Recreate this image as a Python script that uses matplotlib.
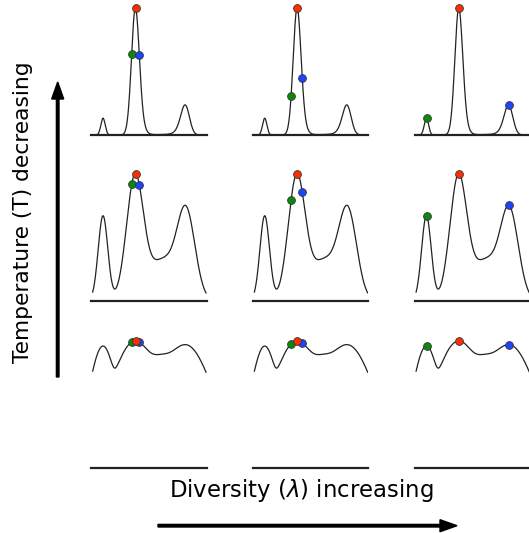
import numpy as np
import matplotlib.pyplot as plt

# Gaussian mixture that is tempered in each row (x in panel units)
centers = [11.0, 43.0, 70.0, 94.0]
widths = [4.8, 8.5, 12.5, 9.0]
weights = [0.585, 0.85, 0.27, 0.612]

# rows from top to bottom: temperature decreasing upwards
temps = [0.2, 1.0, 10.0]

# sample positions for each column (diversity increasing to the right)
green_x = [39.7, 37.4, 11.3]
red_x = [43.5, 43.5, 43.5]
blue_x = [47.3, 48.6, 93.5]

W, H = 529, 533


def density(x):
    p = np.zeros_like(x)
    for m, s, w in zip(centers, widths, weights):
        p += w * np.exp(-(x - m) ** 2 / (2 * s ** 2))
    return p


fig = plt.figure(figsize=(W / 100, H / 100), dpi=100)

# overlay for arrows and labels, in pixel units
ov = fig.add_axes([0, 0, 1, 1])
ov.set_xlim(0, W)
ov.set_ylim(H, 0)
ov.axis('off')

ov.arrow(57.7, 377, 0, -295, width=2.6, head_width=12, head_length=17,
         length_includes_head=True, color='black')
ov.arrow(158, 525.7, 299, 0, width=2.6, head_width=12, head_length=17,
         length_includes_head=True, color='black')
ov.text(23.5, 212, 'Temperature (T) decreasing', rotation=90,
        ha='center', va='center', fontsize=15.7)
ov.text(301, 491, r'Diversity ($\lambda$) increasing',
        ha='center', va='center', fontsize=16.4)

xs = np.linspace(0.7, 114, 600)
baselines = [135, 300.5, 468]
lefts = [91.3, 253.0, 414.7]

for r, T in enumerate(temps):
    for c in range(3):
        ax = fig.add_axes([lefts[c] / W, (H - baselines[r]) / H,
                           115.4 / W, 127 / H])
        y = density(xs) ** (1.0 / T)
        top = y.max()
        ax.plot(xs, y / top, color='#222222', lw=0.9)
        ax.set_xlim(-0.7, 114.7)
        ax.set_ylim(0, 1)
        for k in ['top', 'left', 'right']:
            ax.spines[k].set_visible(False)
        ax.spines['bottom'].set_linewidth(1.6)
        ax.spines['bottom'].set_color('#222222')
        ax.set_xticks([])
        ax.set_yticks([])
        ax.patch.set_alpha(0)

        pts = [(green_x[c], '#0a8a0a'), (blue_x[c], '#1a44ff'),
               (red_x[c], '#ff2d00')]
        for px, col in pts:
            py = density(np.array([px]))[0] ** (1.0 / T) / top
            ax.plot(px, py, 'o', color=col, ms=5.6, mec='#333333',
                    mew=0.6, clip_on=False, zorder=5)

fig.savefig('out.png', dpi=100)
